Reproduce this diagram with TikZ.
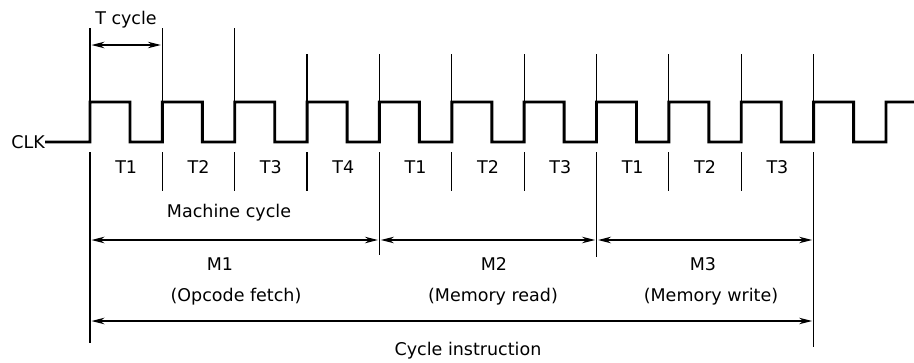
\documentclass[tikz,border=0pt]{standalone}
\usepackage{fontspec}
\setmainfont{DejaVu Sans}
\usetikzlibrary{arrows.meta}
\begin{document}
\begin{tikzpicture}[x=1pt,y=-1pt,
  thinline/.style={line width=1.2pt},
  clk/.style={line width=2.9pt, line join=miter},
  dim/.style={line width=1.2pt, shorten <=1.5pt, shorten >=1.5pt,
    {Stealth[length=13pt,width=6.5pt]}-{Stealth[length=13pt,width=6.5pt]}},
  lbl/.style={font=\fontsize{17.5}{20}\selectfont, inner sep=0pt}]
\useasboundingbox (0,0) rectangle (914,362);
% edge coordinates
\foreach \k in {0,...,10} {
  \coordinate (hi\k) at ({90+72.36*\k},102);
  \coordinate (tb\k) at ({90+72.36*\k},152);
  \coordinate (te\k) at ({90+72.36*\k},191);
}
\foreach \k in {0,1,2} \coordinate (tt\k) at ({90+72.36*\k},28);
\foreach \k in {3,...,10} \coordinate (tt\k) at ({90+72.36*\k},54);
% clock
\node[lbl, anchor=east] (clk) at (45,142) {CLK};
\draw[clk] (clk.east) -- (90,142)
  \foreach \k in {0,...,10} { -- ({90+72.36*\k},102) -- ({130+72.36*\k},102)
     -- ({130+72.36*\k},142) -- ({162.36+72.36*\k},142)}
  -- (886,102) -- (914,102);
% vertical lines above
\foreach \k in {0,...,10} \draw[thinline] (tt\k) -- (hi\k);
% ticks below
\foreach \k in {0,...,10} \draw[thinline] (tb\k) -- (te\k);
% long lines
\coordinate (L0) at (90,343);
\coordinate (L4) at (379.44,255);
\coordinate (L7) at (596.52,257);
\coordinate (L10) at (813.6,347);
\draw[thinline] (te0) -- (L0);
\draw[thinline] (te4) -- (L4);
\draw[thinline] (te7) -- (L7);
\draw[thinline] (te10) -- (L10);
% T cycle
\coordinate (tcA) at (90,45);
\coordinate (tcB) at (162.36,45);
\node[lbl] (tcyc) at (126,20) {T cycle};
\draw[dim] (tcA) -- (tcB);
% T labels
\foreach \k/\t in {0/T1,1/T2,2/T3,3/T4,4/T1,5/T2,6/T3,7/T1,8/T2,9/T3}
  \node[lbl] (tl\k) at ({126.18+72.36*\k},167) {\t};
% machine cycles
\node[lbl] (mc) at (229,213) {Machine cycle};
\coordinate (m1a) at (90,240);
\coordinate (m1b) at (379.44,240);
\coordinate (m2b) at (596.52,240);
\coordinate (m3b) at (813.6,240);
\draw[dim] (m1a) -- (m1b);
\draw[dim] (m1b) -- (m2b);
\draw[dim] (m2b) -- (m3b);
\node[lbl] (M1) at (220,264) {M1};
\node[lbl] (M1t) at (236,297) {(Opcode fetch)};
\node[lbl] (M2) at (494,264) {M2};
\node[lbl] (M2t) at (493,297) {(Memory read)};
\node[lbl] (M3) at (703,264) {M3};
\node[lbl] (M3t) at (711,297) {(Memory write)};
% instruction cycle
\coordinate (ci1) at (90,321);
\coordinate (ci2) at (813.6,321);
\draw[dim] (ci1) -- (ci2);
\node[lbl] (cin) at (468,351) {Cycle instruction};
\end{tikzpicture}
\end{document}
